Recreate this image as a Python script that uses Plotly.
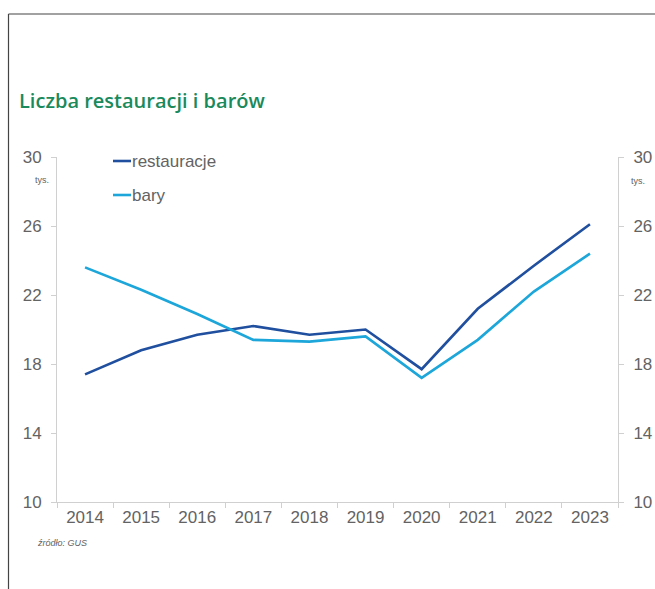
import plotly.graph_objects as go

# Liczba restauracji i barów w Polsce (tys.)
years = ["2014", "2015", "2016", "2017", "2018", "2019", "2020", "2021", "2022", "2023"]
restauracje = [17.4, 18.8, 19.7, 20.2, 19.7, 20.0, 17.7, 21.2, 23.7, 26.1]
bary = [23.6, 22.3, 20.9, 19.4, 19.3, 19.6, 17.2, 19.4, 22.2, 24.4]
y_ticks = [10, 14, 18, 22, 26, 30]

DARK = "#1f4f9e"
LIGHT = "#1ca6d9"
GREY = "#636363"
AXIS = "#d0d0d0"

W, H = 655, 589
L, R, T, B = 57, 37, 157, 87
pw, ph = W - L - R, H - T - B


def px(x):
    return (x - L) / pw


def py(y):
    return (H - B - y) / ph


fig = go.Figure()
fig.add_trace(go.Scatter(x=years, y=restauracje, mode="lines", name="restauracje",
                         line=dict(color=DARK, width=2.6), showlegend=False))
fig.add_trace(go.Scatter(x=years, y=bary, mode="lines", name="bary",
                         line=dict(color=LIGHT, width=2.6), showlegend=False))
# invisible carrier for the right-hand axis
fig.add_trace(go.Scatter(x=years, y=restauracje, mode="lines", yaxis="y2",
                         line=dict(width=0), opacity=0, showlegend=False, hoverinfo="skip"))

axis_font = dict(family="Liberation Sans, Arial", size=17, color=GREY)
yax = dict(range=[10, 30], tickvals=y_ticks, showgrid=False, zeroline=False,
           showline=True, linecolor=AXIS, linewidth=1, ticks="outside", ticklen=5,
           tickcolor=AXIS, tickfont=axis_font, ticklabelstandoff=6, automargin=False)

fig.update_layout(
    width=W, height=H,
    margin=dict(l=L, r=R, t=T, b=B),
    paper_bgcolor="white", plot_bgcolor="white",
    xaxis=dict(type="category", showgrid=False, zeroline=False, showline=True,
               linecolor=AXIS, linewidth=1, ticks="outside", ticklen=5,
               tickcolor=AXIS, tickson="boundaries", tickfont=axis_font,
               range=[-0.5, 9.5], automargin=False),
    yaxis=yax,
    yaxis2=dict(yax, overlaying="y", side="right"),
)


def note(text, x, y, size, anchor="left", family="Liberation Sans, Arial",
         color=GREY, **kw):
    return dict(text=text, x=px(x), y=py(y), xref="paper", yref="paper",
                xanchor=anchor, yanchor="middle", showarrow=False,
                font=dict(family=family, size=size, color=color, **kw))


annotations = [
    note("Liczba restauracji i barów", 17, 100, 20, family="Open Sans",
         color="#1a8a5c", weight=600),
    note("tys.", 42, 180, 9, anchor="center"),
    note("tys.", 638, 181, 9, anchor="center"),
    note("<i>źródło: GUS</i>", 35, 543, 9),
]

# hand-placed legend
legend_items = [("restauracje", DARK, 161), ("bary", LIGHT, 195)]
shapes = []
for label, color, yy in legend_items:
    shapes.append(dict(type="line", xref="paper", yref="paper",
                       x0=px(113), x1=px(131), y0=py(yy), y1=py(yy),
                       line=dict(color=color, width=2.6)))
    annotations.append(note(label, 130, yy, 17))

# frame lines at top and left
shapes.append(dict(type="line", xref="paper", yref="paper", x0=px(8.5), x1=px(W + 5),
                   y0=py(14), y1=py(14), line=dict(color="#444", width=1.2)))
shapes.append(dict(type="line", xref="paper", yref="paper", x0=px(8.5), x1=px(8.5),
                   y0=py(14), y1=py(H + 5), line=dict(color="#444", width=1.2)))

fig.update_layout(annotations=annotations, shapes=shapes)
fig.write_html("out.html")
